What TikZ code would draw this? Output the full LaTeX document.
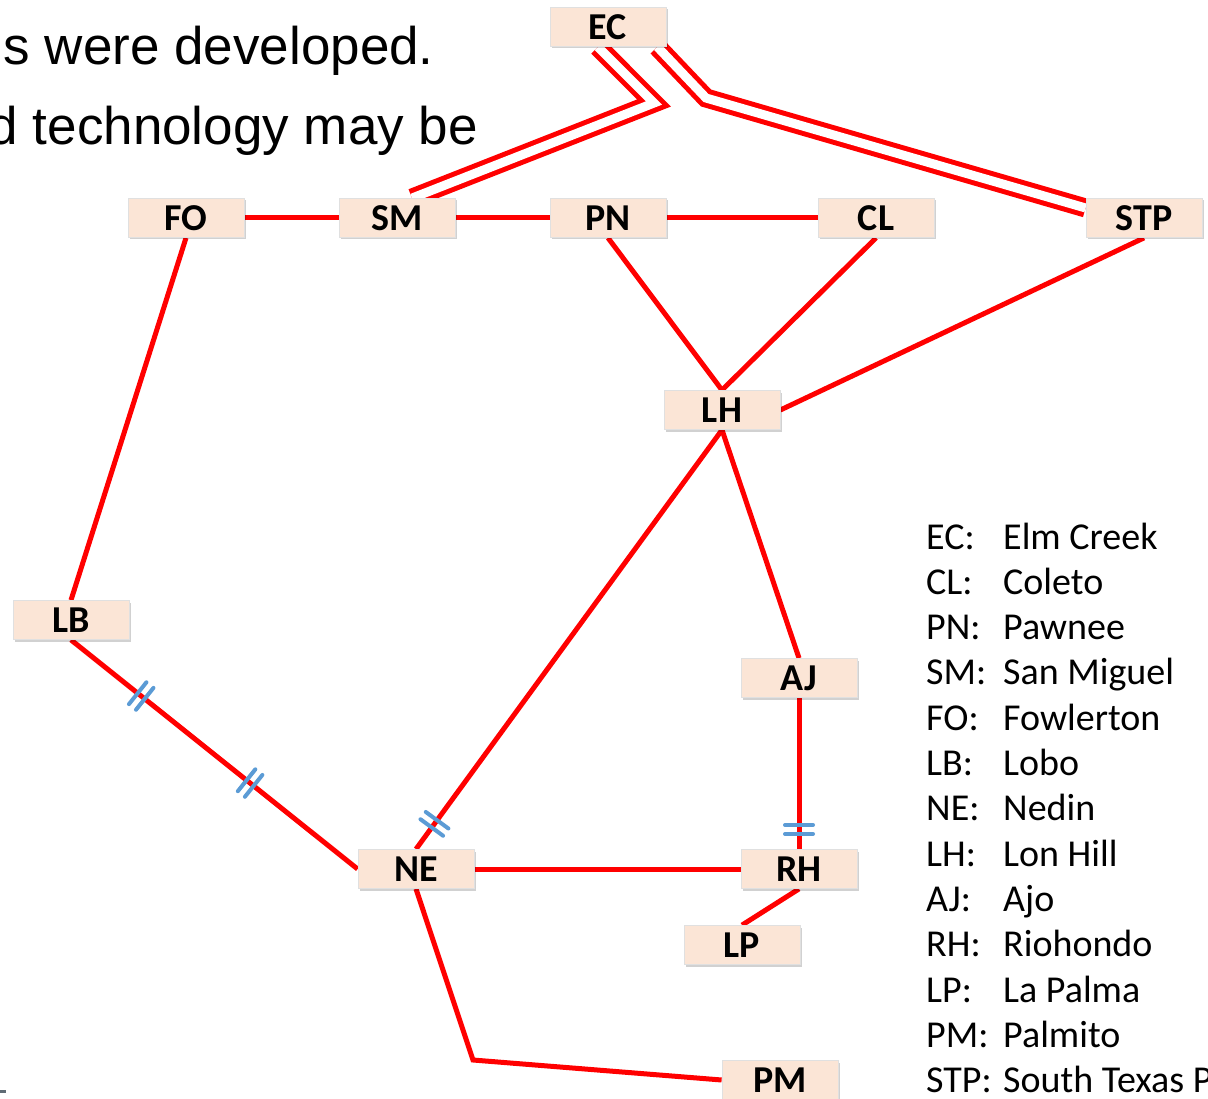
\documentclass[tikz,border=0pt]{standalone}
\usepackage{fontspec}
\setmainfont{Carlito}
\newfontfamily\arialfont{Liberation Sans}
\usetikzlibrary{shadows,decorations.markings,backgrounds}
\definecolor{peach}{HTML}{FBE5D6}
\definecolor{linkred}{HTML}{FF0000}
\definecolor{hashblue}{HTML}{5B9BD5}
\tikzset{
  stn/.style={rectangle, minimum width=116, minimum height=39, inner sep=0,
    fill=peach, draw=black!12, line width=0.8,
    font=\fontsize{38}{40}\selectfont\bfseries,
    drop shadow={shadow xshift=1.5pt, shadow yshift=-2pt, opacity=0.18, fill=black}},
  link/.style={draw=linkred, line width=5},
  dlink/.style={draw=linkred, line width=5, double=white, double distance=9},
  hashline/.style={draw=hashblue, line width=4, line cap=round},
  hashpair/.style={postaction={decorate, decoration={markings,
    mark=at position #1 with {\draw[hashline] (-4.5,-14)--(-4.5,14) (4.5,-14)--(4.5,14);}}}},
  legabbr/.style={anchor=base west, inner sep=0, font=\fontsize{38}{40}\selectfont},
  slidetext/.style={anchor=base east, inner sep=0, font=\arialfont\fontsize{53}{60}\selectfont}
}
\begin{document}
\begin{tikzpicture}[x=1pt, y=-1pt]
\useasboundingbox (0,0) rectangle (1208,1099);
\clip (0,0) rectangle (1208,1099);

% slide text fragments
\node[slidetext] (t1) at (434,65) {s were developed.};
\node[slidetext] (t2) at (478,145) {d technology may be};
\fill[fill={rgb,255:red,95;green,107;blue,117}] (0,1090) rectangle (6,1093);

% stations
\node[stn] (EC)  at (608,27)   {EC};
\node[stn] (FO)  at (186,218)  {FO};
\node[stn] (SM)  at (397,218)  {SM};
\node[stn] (PN)  at (608,218)  {PN};
\node[stn] (CL)  at (876,218)  {CL};
\node[stn] (STP) at (1144,218) {STP};
\node[stn] (LH)  at (722,410)  {LH};
\node[stn] (LB)  at (71,620)   {LB};
\node[stn] (AJ)  at (799,678)  {AJ};
\node[stn] (NE)  at (416,869)  {NE};
\node[stn] (RH)  at (799,869)  {RH};
\node[stn] (LP)  at (742,945)  {LP};
\node[stn] (PM)  at (780,1080) {PM};

\coordinate (bendL) at (654,103);
\coordinate (bendR) at (706,98);
\coordinate (bendPM) at (473,1060);

\begin{pgfonlayer}{background}
  % double circuits from EC
  \draw[dlink] ([xshift=-10]EC.south) -- (bendL) -- ([xshift=15]SM.north);
  \draw[dlink] ([xshift=-9]EC.south east) -- (bendR) -- ([yshift=10pt]STP.west);
  % single circuits
  \draw[link] (FO.east) -- (SM.west);
  \draw[link] (SM.east) -- (PN.west);
  \draw[link] (PN.east) -- (CL.west);
  \draw[link] (PN.south) -- (LH.north);
  \draw[link] (CL.south) -- (LH.north);
  \draw[link] (STP.south) -- (LH.east);
  \draw[link] (FO.south) -- (LB.north);
  \draw[link] (LH.south) -- (AJ.north);
  \draw[link] (NE.east) -- (RH.west);
  \draw[link] (RH.south) -- (LP.north);
  \draw[link] (NE.south) -- (bendPM) -- (PM.west);
  % circuits with series compensation marks
  \draw[link, hashpair=0.245, hashpair=0.625] (LB.south) -- (NE.west);
  \draw[link, hashpair=0.94] (LH.south) -- (NE.north);
  \draw[link, hashpair=0.87] (AJ.south) -- (RH.north);
\end{pgfonlayer}

% legend
\foreach \ab/\nm [count=\i from 0] in {EC:/Elm Creek, CL:/Coleto, PN:/Pawnee,
    SM:/San Miguel, FO:/Fowlerton, LB:/Lobo, NE:/Nedin, LH:/Lon Hill, AJ:/Ajo,
    RH:/Riohondo, LP:/La Palma, PM:/Palmito, STP:/South Texas Project} {
  \node[legabbr] (la\i) at (926,549+45.33*\i) {\ab};
  \node[legabbr] (ln\i) at (1003,549+45.33*\i) {\nm};
}
\end{tikzpicture}
\end{document}
